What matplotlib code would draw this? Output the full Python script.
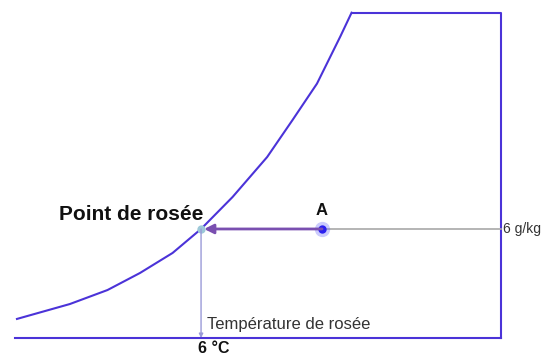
import matplotlib
matplotlib.use("Agg")
import matplotlib.pyplot as plt

plt.rcParams['font.family'] = ['Liberation Sans', 'DejaVu Sans']

# saturation curve (temperature in °C, moisture in g/kg)
sat_temp = [-12.1, -6.9, -3.2, 0.0, 3.2, 6.0, 9.1, 12.5, 15.0, 17.4, 19.7, 20.8]
sat_hum = [1.05, 1.87, 2.64, 3.58, 4.68, 6.0, 7.76, 9.96, 12.0, 14.0, 16.6, 17.9]

# frame of the diagram
t_min, t_max = -12.3, 35.5
h_top = 17.9

# air state A and its dew point
a_temp, a_hum = 17.9, 6.0
dew_temp = 6.0

fig = plt.figure(figsize=(5.57, 3.58), dpi=100)
ax = fig.add_axes([0, 0, 1, 1])
ax.set_xlim(-13.77, 41.0)
ax.set_ylim(-1.10, 18.60)
ax.axis('off')

line_col = '#4b33d8'
ax.plot(sat_temp, sat_hum, color=line_col, lw=1.5, solid_joinstyle='round')
ax.plot([sat_temp[-1], t_max, t_max], [h_top, h_top, 0], color=line_col, lw=1.5)
ax.plot([t_min, t_max], [0, 0], color=line_col, lw=1.5)

# constant moisture line through A
ax.plot([a_temp, t_max], [a_hum, a_hum], color='#a8a8a8', lw=1.2)

# cooling arrow from A to the dew point
ax.annotate('', xy=(dew_temp + 0.3, a_hum), xytext=(a_temp, a_hum),
            arrowprops=dict(arrowstyle='-|>', color='#7a4fb0', lw=2,
                            mutation_scale=14, shrinkA=0, shrinkB=0))

# drop down to the temperature axis
ax.annotate('', xy=(dew_temp, 0), xytext=(dew_temp, a_hum),
            arrowprops=dict(arrowstyle='-|>', color='#9a9ad8', lw=1,
                            mutation_scale=6, shrinkA=0, shrinkB=0))

ax.plot([a_temp], [a_hum], 'o', color='#6a6af8', ms=11, alpha=0.35, mec='none')
ax.plot([a_temp], [a_hum], 'o', color='#2a1ff0', ms=6, mec='none')
ax.plot([dew_temp], [a_hum], 'o', color='#9cc8d8', ms=6, mec='none')

ax.text(a_temp, a_hum + 0.6, 'A', fontsize=12, ha='center', va='bottom',
        color='#111111', fontweight='bold')
ax.text(dew_temp + 0.2, a_hum + 0.3, 'Point de rosée', fontsize=15,
        ha='right', va='bottom', color='#111111', fontweight='bold')
ax.text(t_max + 0.2, a_hum, '6 g/kg', fontsize=10, ha='left', va='center', color='#333333')
ax.text(dew_temp + 0.6, 0.75, 'Température de rosée', fontsize=12,
        ha='left', va='center', color='#333333')
ax.text(dew_temp + 1.2, -0.6, '6 °C', fontsize=11.5, ha='center', va='center',
        color='#111111', fontweight='bold')

fig.savefig('out.png', dpi=100)
